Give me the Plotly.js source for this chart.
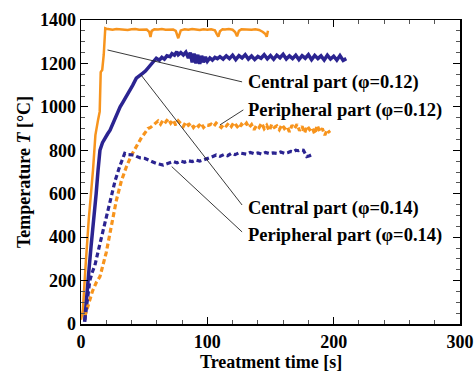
<!DOCTYPE html>
<html>
<head>
<meta charset="utf-8">
<script src="https://cdn.plot.ly/plotly-3.0.1.min.js"></script>
<style>html,body{margin:0;padding:0;background:#fff;}#chart{width:474px;height:371px;}</style>
</head>
<body>
<div id="chart"></div>
<script>
// Central part (phi=0.12) - orange solid
const tCentral012 = [0,1.5,3.4,6.1,9.5,11.4,13.5,14.8,15.6,16.8,18.0,19.2,20,22,25,28,31,34,37,40,43,46,49,52,54,55,56,58,61,64,67,70,73,75,77,79,82,85,88,91,94,97,100,103,106,107.5,108.7,110,112,114,117,120,122,123.5,125,127,129,132,135,138,141,144,146,147,148];
const TCentral012 = [20,64,249,479,709,870,940,978,1160,1170,1240,1362,1360,1357,1355,1358,1356,1357,1354,1357,1358,1355,1357,1356,1345,1322,1350,1357,1356,1358,1355,1357,1356,1350,1316,1352,1357,1355,1358,1356,1354,1357,1355,1357,1352,1335,1323,1348,1357,1356,1358,1355,1345,1325,1350,1357,1356,1358,1355,1357,1354,1345,1335,1323,1350];

// Central part (phi=0.14) - navy solid
const tCentral014 = [2.9,4.5,6.3,8,10.3,12,13.5,15,17,19,21,23,25,27,29.3,31,33,35,37.2,39,41,43.8,46,47.5,49,51,53,55.7,57.5,59.6,62,64,66,68,70.5,72,74,75.8,77,79,81,83,85,86.5,88,89.5,91,92.5,94,95.5,97,98.5,100,102,104,106,108,110,112.5,115,117.5,120,122.5,125,127.5,130,132.5,135,137.5,140,142.5,145,147.5,150,152.5,155,157.5,160,162.5,165,167.5,170,172.5,175,177.5,180,182.5,185,187.5,190,192.5,195,197.5,200,202.5,205,207.5,210];
const TCentral014 = [10,140,249,360,479,600,709,800,835,858,875,893,920,950,978,1000,1020,1040,1055,1075,1100,1132,1140,1147,1155,1165,1178,1193,1205,1224,1215,1228,1220,1235,1231,1245,1238,1254,1240,1250,1239,1252,1225,1250,1205,1245,1200,1240,1198,1235,1205,1230,1210,1225,1215,1228,1222,1231,1220,1235,1222,1238,1218,1236,1225,1240,1220,1234,1218,1232,1224,1240,1221,1236,1219,1238,1226,1242,1220,1235,1222,1238,1218,1236,1224,1240,1217,1237,1222,1235,1216,1238,1220,1233,1215,1236,1214,1222];

// Peripheral part (phi=0.12) - orange dashed
const tPeriph012 = [3,6,9,12,15,20,24,28,32,36,40,43,46,48,50.4,53,55,57,59,61,63,65,67,69,71,73,75,77,79,81,83,85,87,89,91,93,95,97,99,101,103,105,107,109,111,113,115,117,119,121,123,125,127,129,131,133,135,137,139,141,143,145,147,149,151,153,155,157,159,161,163,165,167,169,171,173,175,177,179,181,183,185,187,189,191,193,195,197];
const TPeriph012 = [34,90,150,190,218,330,450,570,660,725,778,810,835,860,878,900,905,917,925,935,920,940,930,945,925,940,915,935,920,910,930,915,925,905,920,910,925,905,917,915,920,910,925,915,905,920,912,925,910,928,915,900,920,910,925,905,918,895,915,905,925,900,915,890,920,905,912,895,918,900,910,885,915,900,920,890,910,880,912,895,905,875,915,885,900,870,895,880];

// Peripheral part (phi=0.14) - navy dashed
const tPeriph014 = [3,5,7,9,11,15,19,23,27,30.6,32.5,34.6,37,39.8,42,44,47,50.4,53,56,59.6,62,65,68,71,73,76,79,82,85,88,91,94,97,100,103,107,110,113,116,119,122,125,128.5,131,134,137,140,143,146,149,152,155,158,161,164,166,168,170,172,174,176,178.7,181,184];
const TPeriph014 = [18,100,200,240,270,370,470,560,660,725,750,786,780,778,778,772,765,763,755,748,740,735,732,738,745,748,742,750,745,752,748,755,750,755,762,768,778,772,780,775,786,780,788,786,782,790,784,788,782,790,785,788,786,792,786,790,795,792,800,798,802,800,771,775,783];

// Labels and leader lines (data coordinates)
const labelTexts = ["Central part (\u03c6=0.12)","Peripheral part (\u03c6=0.12)","Central part (\u03c6=0.14)","Peripheral part (\u03c6=0.14)"];
const labelX = [130.5,130.5,130.5,130.5];
const labelY = [1110,985,530,408];
const leaderFromX = [21,110,47.5,71.8];
const leaderFromY = [1262,917,1147,725];
const leaderToX = [127.5,128.5,127.5,127.5];
const leaderToY = [1115,986,548,424];

const xTickVals = [0,100,200,300];
const yTickVals = [0,200,400,600,800,1000,1200,1400];
const xTitle = "Treatment time [s]";
const yTitle = "Temperature <i>T</i> [\u00b0C]";

const ORANGE = "#F7941D";
const NAVY = "#2B2491";

const traces = [
  {x:tCentral012, y:TCentral012, mode:"lines", line:{color:ORANGE, width:2.5}},
  {x:tCentral014, y:TCentral014, mode:"lines", line:{color:NAVY, width:3.5}},
  {x:tPeriph012, y:TPeriph012, mode:"lines", line:{color:ORANGE, width:3.2, dash:"5px,3px"}},
  {x:tPeriph014, y:TPeriph014, mode:"lines", line:{color:NAVY, width:3.2, dash:"5px,3px"}}
];

const shapes = leaderFromX.map((v,i)=>({
  type:"line", xref:"x", yref:"y",
  x0:v, y0:leaderFromY[i], x1:leaderToX[i], y1:leaderToY[i],
  line:{color:"#222", width:0.9}
}));

const axisFont = {family:"Liberation Serif, Times New Roman, serif", size:18, color:"#000", weight:"bold"};

const annotations = labelTexts.map((s,i)=>({
  x:labelX[i], y:labelY[i], xref:"x", yref:"y", text:s, showarrow:false,
  xanchor:"left", yanchor:"middle",
  font:{family:"Liberation Serif, Times New Roman, serif", size:18.5, color:"#000", weight:"bold"}
}));
annotations.push({
  x:0.5, y:-0.125, xref:"paper", yref:"paper", text:xTitle, showarrow:false,
  xanchor:"center", yanchor:"middle", font:axisFont
});

const layout = {
  width:474, height:371,
  margin:{l:81, r:14, t:20, b:47},
  paper_bgcolor:"#fff", plot_bgcolor:"#fff",
  showlegend:false,
  xaxis:{
    range:[0,300], tickvals:xTickVals, ticktext:xTickVals.map(String),
    showgrid:false, zeroline:false, showline:true, linecolor:"#000", linewidth:1.5,
    mirror:"ticks", ticks:"inside", ticklen:7, tickwidth:1, tickcolor:"#000",
    minor:{dtick:20, ticks:"inside", ticklen:4, tickwidth:1, tickcolor:"#555"},
    tickfont:axisFont, ticklabelstandoff:1,
    automargin:false
  },
  yaxis:{
    range:[0,1400], tickvals:yTickVals, ticktext:yTickVals.map(String),
    showgrid:false, zeroline:false, showline:true, linecolor:"#000", linewidth:1.5,
    mirror:"ticks", ticks:"inside", ticklen:7, tickwidth:1, tickcolor:"#000",
    minor:{dtick:50, ticks:"inside", ticklen:4, tickwidth:1, tickcolor:"#555"},
    tickfont:axisFont, automargin:false,
    title:{text:yTitle, font:axisFont, standoff:4}
  },
  shapes:shapes,
  annotations:annotations
};

Plotly.newPlot("chart", traces, layout, {displayModeBar:false, staticPlot:true});
</script>
</body>
</html>
